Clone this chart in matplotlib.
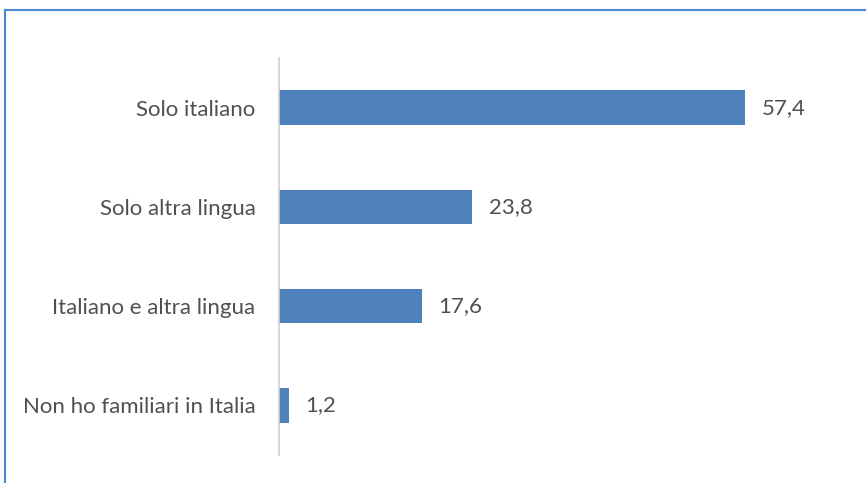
import matplotlib.pyplot as plt
from matplotlib.lines import Line2D

categories = ["Solo italiano", "Solo altra lingua", "Italiano e altra lingua",
              "Non ho familiari in Italia"]
values = [57.4, 23.8, 17.6, 1.2]
value_labels = ["57,4", "23,8", "17,6", "1,2"]

plt.rcParams['font.family'] = ['Lato', 'DejaVu Sans']

fig = plt.figure(figsize=(8.66, 4.83), dpi=100)
ax = fig.add_axes([279 / 866, 28 / 483, 568 / 866, 397 / 483])

ypos = list(range(len(categories)))
ax.barh(ypos, values, height=0.35, color="#4f81bd")
ax.set_ylim(len(categories) - 0.5, -0.5)
ax.set_xlim(0, 70)

for y, v, lab in zip(ypos, values, value_labels):
    ax.annotate(lab, (v, y), xytext=(12, 0), textcoords="offset points",
                va="center", ha="left", fontsize=16, color="#505050")

ax.set_yticks(ypos)
ax.set_yticklabels(categories, fontsize=16, color="#505050")
ax.tick_params(axis="y", length=0, pad=17)
ax.set_xticks([])
for s in ["top", "right", "bottom"]:
    ax.spines[s].set_visible(False)
ax.spines["left"].set_color("#d0d0d0")
ax.spines["left"].set_linewidth(1.2)

# outer frame partially visible (top and left edges)
fig.add_artist(Line2D([5 / 866, 1], [1 - 10 / 483, 1 - 10 / 483],
                      transform=fig.transFigure, color="#4a8ad4", lw=1.5))
fig.add_artist(Line2D([5 / 866, 5 / 866], [0, 1 - 10 / 483],
                      transform=fig.transFigure, color="#4a8ad4", lw=1.5))

fig.savefig("out.png", dpi=100)
